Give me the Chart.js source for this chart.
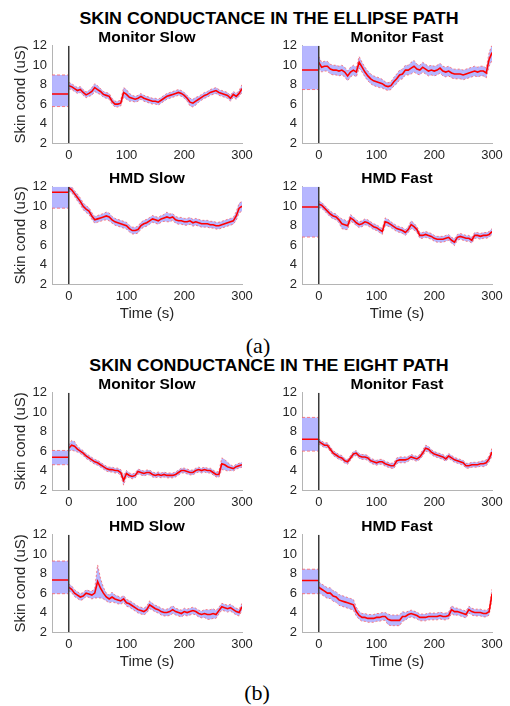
<!DOCTYPE html>
<html>
<head>
<meta charset="utf-8">
<script src="https://cdn.jsdelivr.net/npm/chart.js@4.4.0/dist/chart.umd.min.js"></script>
<style>
  body { margin: 0; background: #fff; width: 510px; height: 706px; position: relative; overflow: hidden; }
  canvas { position: absolute; }
  .t { position: absolute; font-family: "Liberation Sans", Arial, sans-serif; font-weight: bold; white-space: nowrap; color: #000; }
  .cap { position: absolute; font-family: "Liberation Serif", "Times New Roman", serif; font-size: 22px; transform: translate(-50%, -50%); }
</style>
</head>
<body>
<div class="t" style="left:269px;top:18px;font-size:16.5px;transform:translate(-50%,-50%) scaleX(1.08)">SKIN CONDUCTANCE IN THE ELLIPSE PATH</div>
<div class="t" style="left:269px;top:365px;font-size:16.5px;transform:translate(-50%,-50%) scaleX(1.08)">SKIN CONDUCTANCE IN THE EIGHT PATH</div>
<div class="cap" style="left:258px;top:346px">(a)</div>
<div class="cap" style="left:257px;top:693px">(b)</div>

<script>
// time axis (s)
const time = [0,5,10,15,20,25,30,35,40,45,50,55,60,65,70,75,80,85,90,95,100,105,110,115,120,125,130,135,140,145,150,
  155,160,165,170,175,180,185,190,195,200,205,210,215,220,225,230,235,240,245,250,255,260,265,270,275,280,285,290,295,300];
const yTicks = [2, 4, 6, 8, 10, 12];
const xTicks = [0, 100, 200, 300];

// ellipse path
const ellMonSlowMean = [7.9,7.8,7.6,7.4,7.5,7.2,6.95,7.1,7.3,7.7,7.5,7.3,7.0,6.9,6.8,6.3,6.0,6.0,6.1,7.2,7.0,6.7,6.6,6.5,6.6,6.8,6.6,6.5,6.4,6.3,6.3,
  6.2,6.4,6.6,6.8,6.9,7.0,7.1,7.2,7.1,6.9,6.6,6.2,6.1,6.3,6.5,6.7,6.9,7.0,7.2,7.3,7.4,7.2,7.1,7.0,6.9,6.6,7.0,6.8,7.1,7.6];
const ellMonSlowSd = [0.35,0.3,0.3,0.3,0.3,0.3,0.3,0.3,0.4,0.4,0.4,0.3,0.3,0.3,0.3,0.3,0.3,0.3,0.3,0.5,0.5,0.4,0.3,0.3,0.3,0.3,0.3,0.3,0.3,0.3,0.3,
  0.3,0.3,0.3,0.3,0.3,0.3,0.3,0.3,0.3,0.3,0.3,0.4,0.4,0.4,0.3,0.3,0.3,0.3,0.3,0.3,0.3,0.3,0.3,0.3,0.3,0.3,0.3,0.3,0.3,0.4];
const ellMonSlowBase = [7.05, 9.0, 5.75]; // mean, upper, lower

const ellMonFastMean = [10.3,9.8,9.9,9.9,9.6,9.5,9.5,9.4,9.5,9.3,8.9,9.3,9.5,9.3,10.3,9.8,9.3,8.9,8.6,8.4,8.3,8.2,8.1,7.9,7.8,7.9,8.3,8.6,9.0,9.1,9.5,
  9.5,9.7,9.9,9.6,9.5,9.8,9.6,9.4,9.5,9.4,9.5,9.7,9.4,9.3,9.4,9.2,9.1,9.1,9.1,9.0,9.1,9.2,9.3,9.4,9.3,9.4,9.4,9.2,10.6,11.3];
const ellMonFastSd = [0.6,0.5,0.5,0.5,0.5,0.5,0.5,0.5,0.5,0.5,0.5,0.5,0.5,0.5,0.6,0.5,0.5,0.5,0.5,0.5,0.5,0.5,0.45,0.4,0.4,0.4,0.45,0.5,0.5,0.5,0.5,
  0.5,0.6,0.6,0.5,0.5,0.5,0.5,0.5,0.5,0.5,0.5,0.5,0.5,0.5,0.5,0.5,0.5,0.5,0.5,0.5,0.5,0.5,0.5,0.5,0.5,0.5,0.5,0.5,0.7,0.8];
const ellMonFastBase = [9.5, 12.3, 7.5];

const ellHmdSlowMean = [11.9,11.7,11.3,10.9,10.5,10.0,9.7,9.5,9.0,8.6,8.7,8.8,8.9,9.0,8.9,8.6,8.4,8.3,8.2,8.1,8.0,7.7,7.5,7.5,7.6,8.0,8.2,8.3,8.5,8.7,8.6,
  8.5,8.7,8.8,8.9,8.8,8.9,8.6,8.5,8.5,8.4,8.4,8.5,8.3,8.4,8.3,8.2,8.2,8.2,8.1,8.1,8.0,8.0,8.1,8.2,8.3,8.4,8.5,9.0,9.8,10.0];
const ellHmdSlowSd = [0.3,0.3,0.3,0.35,0.35,0.35,0.35,0.35,0.35,0.35,0.35,0.35,0.35,0.4,0.4,0.35,0.35,0.35,0.35,0.35,0.35,0.35,0.35,0.35,0.35,0.35,0.35,0.35,0.35,0.35,0.35,
  0.35,0.35,0.35,0.5,0.4,0.35,0.35,0.35,0.35,0.35,0.35,0.35,0.35,0.35,0.35,0.35,0.35,0.35,0.35,0.35,0.35,0.35,0.35,0.35,0.35,0.35,0.35,0.45,0.5,0.5];
const ellHmdSlowBase = [11.45, 12.3, 9.8];

const ellHmdFastMean = [10.2,10.1,9.8,9.5,9.2,9.0,8.9,8.6,8.2,8.1,8.0,8.8,8.6,8.3,8.1,8.2,8.4,8.3,8.1,7.9,7.8,7.6,7.4,8.4,8.3,8.1,7.9,7.7,7.6,7.5,7.3,
  7.6,8.1,7.9,7.6,7.0,7.0,7.1,7.0,6.9,6.7,6.6,6.6,6.6,6.7,6.8,6.5,6.3,6.8,6.9,6.8,6.7,6.7,6.5,7.0,7.0,6.9,7.0,7.0,7.1,7.4];
const ellHmdFastSd = [0.35,0.3,0.3,0.3,0.3,0.3,0.3,0.3,0.5,0.5,0.4,0.35,0.3,0.3,0.3,0.3,0.3,0.3,0.3,0.3,0.3,0.3,0.3,0.4,0.35,0.3,0.3,0.3,0.3,0.3,0.3,
  0.3,0.4,0.35,0.3,0.3,0.3,0.3,0.3,0.3,0.3,0.3,0.3,0.3,0.3,0.3,0.3,0.35,0.3,0.3,0.3,0.3,0.3,0.3,0.3,0.3,0.3,0.3,0.3,0.3,0.3];
const ellHmdFastBase = [9.93, 12.3, 6.83];

// eight path
const eigMonSlowMean = [6.3,6.6,6.5,6.2,6.0,5.8,5.5,5.3,5.1,4.9,4.8,4.6,4.4,4.2,4.1,4.1,4.0,4.0,3.8,3.0,3.7,3.5,3.4,3.5,3.9,3.8,3.7,3.8,3.8,3.6,3.5,
  3.6,3.5,3.6,3.5,3.5,3.5,3.6,3.8,4.0,4.0,3.9,3.8,3.8,4.0,4.1,4.0,4.1,4.0,4.0,3.8,3.6,3.6,4.7,4.6,4.4,4.3,4.2,4.4,4.5,4.6];
const eigMonSlowSd = [0.3,0.5,0.5,0.3,0.25,0.25,0.25,0.25,0.25,0.25,0.25,0.25,0.25,0.25,0.25,0.25,0.25,0.25,0.3,0.5,0.3,0.25,0.25,0.25,0.25,0.25,0.25,0.25,0.25,0.25,0.25,
  0.25,0.25,0.25,0.25,0.25,0.25,0.25,0.25,0.25,0.25,0.25,0.25,0.25,0.25,0.25,0.25,0.25,0.25,0.25,0.25,0.25,0.3,0.6,0.55,0.45,0.3,0.25,0.25,0.25,0.25];
const eigMonSlowBase = [5.37, 6.07, 4.6];

const eigMonFastMean = [7.0,6.8,6.6,6.6,6.2,5.8,5.6,5.4,5.3,5.0,4.9,5.3,5.7,5.8,5.5,5.4,5.4,5.3,5.0,4.9,4.8,4.9,4.9,4.7,4.6,4.5,4.5,5.0,5.1,5.1,5.1,
  5.2,5.4,5.3,5.2,5.4,5.8,6.3,6.2,5.9,5.7,5.6,5.5,5.4,5.2,5.5,5.3,5.1,5.0,4.9,4.8,4.5,4.5,4.6,4.6,4.6,4.7,4.7,4.8,5.2,5.9];
const eigMonFastSd = [0.25,0.25,0.25,0.25,0.25,0.25,0.25,0.25,0.25,0.25,0.25,0.25,0.25,0.25,0.25,0.25,0.25,0.25,0.25,0.25,0.25,0.25,0.25,0.25,0.25,0.25,0.3,0.3,0.3,0.3,0.3,
  0.25,0.25,0.25,0.25,0.25,0.3,0.3,0.3,0.25,0.25,0.25,0.25,0.25,0.25,0.25,0.25,0.25,0.25,0.25,0.25,0.25,0.25,0.25,0.25,0.25,0.25,0.3,0.3,0.3,0.4];
const eigMonFastBase = [7.23, 9.47, 6.0];

const eigHmdSlowMean = [6.6,6.4,6.0,5.8,5.6,5.7,6.0,5.9,5.8,6.0,7.2,6.5,6.0,5.6,5.4,5.6,5.4,5.3,5.2,5.4,5.0,4.9,4.7,4.5,4.3,4.2,4.1,4.3,4.8,4.6,4.4,
  4.3,4.1,4.0,4.0,4.1,4.3,4.1,4.0,3.9,4.1,4.0,4.1,4.2,4.1,3.9,3.8,3.9,3.8,3.8,3.9,3.8,4.2,4.6,4.5,4.4,4.5,4.3,4.1,4.0,4.6];
const eigHmdSlowSd = [0.35,0.35,0.35,0.35,0.35,0.35,0.35,0.35,0.4,0.5,1.7,1.0,0.6,0.4,0.4,0.5,0.4,0.4,0.35,0.35,0.35,0.35,0.35,0.35,0.35,0.35,0.35,0.35,0.4,0.35,0.35,
  0.35,0.35,0.35,0.35,0.4,0.4,0.35,0.35,0.35,0.35,0.35,0.35,0.35,0.35,0.35,0.35,0.4,0.5,0.5,0.5,0.4,0.35,0.35,0.35,0.35,0.35,0.35,0.35,0.35,0.35];
const eigHmdSlowBase = [7.35, 9.3, 5.94];

const eigHmdFastMean = [6.6,6.4,6.2,6.0,6.0,5.7,5.6,5.3,5.2,5.1,5.0,4.9,4.8,4.1,3.7,3.5,3.5,3.4,3.4,3.4,3.5,3.5,3.6,3.6,3.3,3.2,3.2,3.2,3.2,3.6,3.6,
  3.8,3.9,3.8,3.7,3.5,3.5,3.5,3.6,3.6,3.6,3.6,3.7,3.6,3.6,3.7,4.3,4.1,4.1,4.0,3.9,3.8,4.3,4.1,4.0,4.0,4.0,3.9,3.9,4.1,5.9];
const eigHmdFastSd = [0.55,0.55,0.55,0.55,0.55,0.55,0.55,0.55,0.55,0.55,0.55,0.55,0.55,0.45,0.4,0.4,0.4,0.4,0.4,0.4,0.4,0.4,0.4,0.4,0.55,0.55,0.55,0.55,0.55,0.5,0.4,
  0.35,0.35,0.35,0.35,0.35,0.35,0.35,0.35,0.35,0.35,0.35,0.35,0.35,0.35,0.35,0.4,0.4,0.35,0.35,0.35,0.35,0.35,0.35,0.35,0.35,0.35,0.35,0.35,0.35,0.5];
const eigHmdFastBase = [7.29, 8.46, 5.94];

const panels = [
  { title: 'Monitor Slow', mean: ellMonSlowMean, sd: ellMonSlowSd, base: ellMonSlowBase, col: 0, row: 0 },
  { title: 'Monitor Fast', mean: ellMonFastMean, sd: ellMonFastSd, base: ellMonFastBase, col: 1, row: 0 },
  { title: 'HMD Slow', mean: ellHmdSlowMean, sd: ellHmdSlowSd, base: ellHmdSlowBase, col: 0, row: 1 },
  { title: 'HMD Fast', mean: ellHmdFastMean, sd: ellHmdFastSd, base: ellHmdFastBase, col: 1, row: 1 },
  { title: 'Monitor Slow', mean: eigMonSlowMean, sd: eigMonSlowSd, base: eigMonSlowBase, col: 0, row: 2 },
  { title: 'Monitor Fast', mean: eigMonFastMean, sd: eigMonFastSd, base: eigMonFastBase, col: 1, row: 2 },
  { title: 'HMD Slow', mean: eigHmdSlowMean, sd: eigHmdSlowSd, base: eigHmdSlowBase, col: 0, row: 3 },
  { title: 'HMD Fast', mean: eigHmdFastMean, sd: eigHmdFastSd, base: eigHmdFastBase, col: 1, row: 3 }
];

const plotLeft = [52, 302];
const plotTop = [43, 184, 390, 532];
const plotW = 190, plotH = 100;
const X_MIN = -29;

const bandBlue = 'rgba(178,178,255,0.95)';
const edge = 'rgba(255,90,90,0.75)';
const fontName = '"Liberation Sans", Arial, sans-serif';

panels.forEach(p => {
  const bottomRow = p.row === 1 || p.row === 3;
  const bottomSpace = bottomRow ? 42 : 22;
  const cv = document.createElement('canvas');
  cv.width = 52 + plotW + 16;
  cv.height = 10 + plotH + bottomSpace;
  cv.style.left = (plotLeft[p.col] - 52) + 'px';
  cv.style.top = (plotTop[p.row] - 10) + 'px';
  document.body.appendChild(cv);

  const t = document.createElement('div');
  t.className = 't';
  t.style.fontSize = '14.5px';
  t.style.left = (plotLeft[p.col] + plotW / 2) + 'px';
  t.style.top = (plotTop[p.row] - 6) + 'px';
  t.style.transform = 'translate(-50%,-50%) scaleX(1.07)';
  t.textContent = p.title;
  document.body.appendChild(t);

  const upper = time.map((x, i) => ({ x: x, y: p.mean[i] + p.sd[i] }));
  const lower = time.map((x, i) => ({ x: x, y: p.mean[i] - p.sd[i] }));
  const mean = time.map((x, i) => ({ x: x, y: p.mean[i] }));
  const [bm, bu, bl] = p.base;

  new Chart(cv, {
    type: 'line',
    data: {
      datasets: [
        // baseline period
        { data: [{ x: X_MIN, y: bu }, { x: 0, y: bu }], borderColor: edge, borderWidth: 1, borderDash: [3, 2], fill: '+1', backgroundColor: bandBlue, order: 3 },
        { data: [{ x: X_MIN, y: bl }, { x: 0, y: bl }], borderColor: edge, borderWidth: 1, borderDash: [3, 2], fill: false, order: 2 },
        { data: [{ x: X_MIN, y: bm }, { x: 0, y: bm }], borderColor: '#ff0000', borderWidth: 1.5, fill: false, order: 1 },
        // trial
        { data: upper, borderColor: edge, borderWidth: 1, borderDash: [2, 2], fill: '+1', backgroundColor: bandBlue, order: 3 },
        { data: lower, borderColor: edge, borderWidth: 1, borderDash: [2, 2], fill: false, order: 2 },
        { data: mean, borderColor: '#ff0000', borderWidth: 1.6, fill: false, order: 1 },
        // onset marker
        { data: [{ x: 0, y: 2 }, { x: 0, y: 12 }], borderColor: '#3a3a3a', borderWidth: 1.5, fill: false, order: 0 }
      ]
    },
    options: {
      responsive: false,
      animation: false,
      events: [],
      elements: { point: { radius: 0 }, line: { tension: 0 } },
      layout: { padding: { top: 10, right: 16, left: 0, bottom: 0 } },
      plugins: { legend: { display: false }, tooltip: { enabled: false } },
      scales: {
        x: {
          type: 'linear', min: X_MIN, max: 300,
          afterBuildTicks: s => { s.ticks = xTicks.map(v => ({ value: v })); },
          afterFit: s => { s.height = bottomSpace; },
          grid: { display: true, drawOnChartArea: false, drawTicks: false },
          border: { color: '#b4b4b4', width: 1 },
          ticks: { color: '#262626', font: { family: fontName, size: 13 }, padding: 5, maxRotation: 0 },
          title: { display: bottomRow, text: 'Time (s)', color: '#262626', font: { family: fontName, size: 15 }, padding: { top: 0, bottom: 3 } }
        },
        y: {
          min: 2, max: 12,
          afterBuildTicks: s => { s.ticks = yTicks.map(v => ({ value: v })); },
          afterFit: s => { s.width = 52; },
          grid: { display: true, drawOnChartArea: false, drawTicks: false },
          border: { color: '#b4b4b4', width: 1 },
          ticks: { color: '#262626', font: { family: fontName, size: 13 }, padding: 5 },
          title: { display: p.col === 0, text: 'Skin cond (uS)', color: '#262626', font: { family: fontName, size: 15 }, padding: { top: 12, bottom: 0 } }
        }
      }
    }
  });
});
</script>
</body>
</html>
